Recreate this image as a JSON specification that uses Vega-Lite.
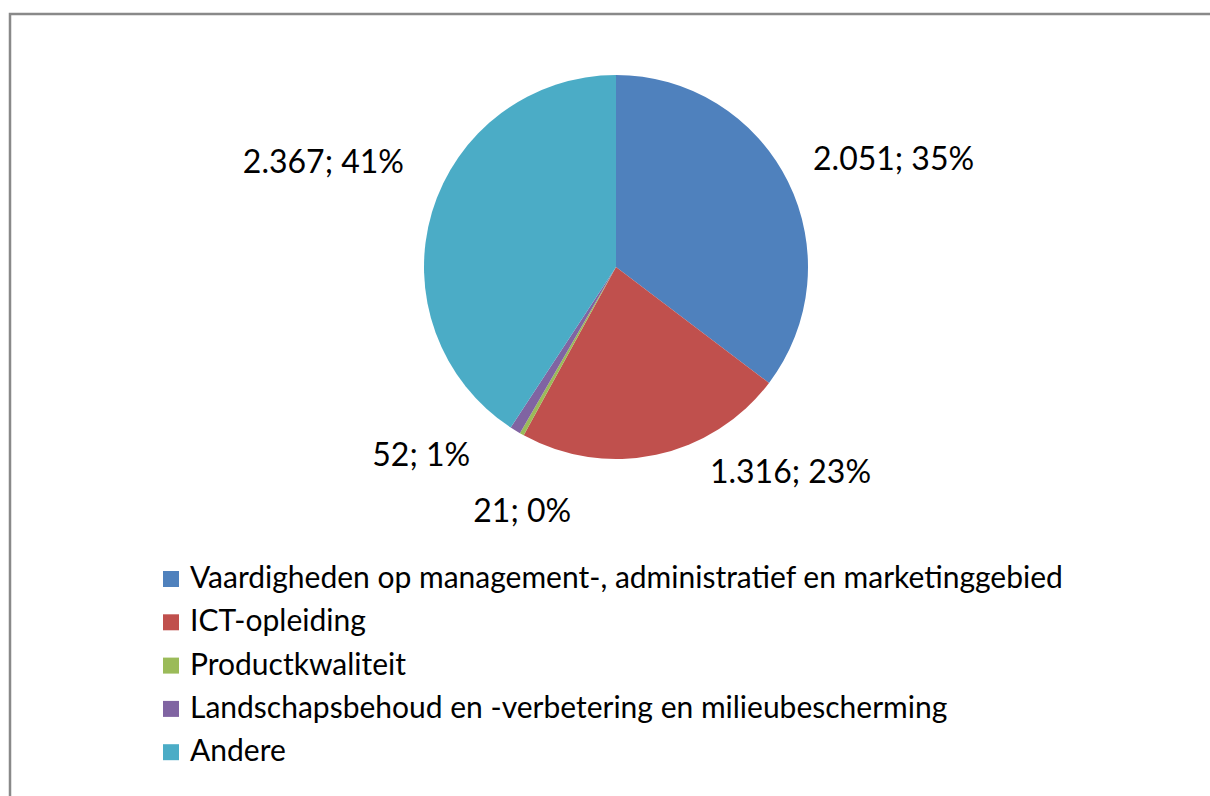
{
  "$schema": "https://vega.github.io/schema/vega-lite/v6.json",
  "width": 1205,
  "height": 790,
  "autosize": {"type": "none"},
  "padding": {"left": 10, "top": 14, "right": 0, "bottom": 0},
  "background": "white",
  "config": {"view": {"stroke": "#898989", "strokeWidth": 2.5}, "font": "Lato"},
  "data": {"values": [
    {"idx": 1, "category": "Vaardigheden op management-, administratief en marketinggebied", "value": 2051, "label": "2.051; 35%"},
    {"idx": 2, "category": "ICT-opleiding", "value": 1316, "label": "1.316; 23%"},
    {"idx": 3, "category": "Productkwaliteit", "value": 21, "label": "21; 0%"},
    {"idx": 4, "category": "Landschapsbehoud en -verbetering en milieubescherming", "value": 52, "label": "52; 1%"},
    {"idx": 5, "category": "Andere", "value": 2367, "label": "2.367; 41%"}
  ]},
  "encoding": {
    "theta": {"field": "value", "type": "quantitative", "stack": true},
    "order": {"field": "idx", "type": "quantitative"},
    "detail": {"field": "category", "type": "nominal"},
    "x": {"datum": 0, "type": "quantitative", "scale": {"domain": [-606, 599], "nice": false, "zero": false}, "axis": null},
    "y": {"datum": 0, "type": "quantitative", "scale": {"domain": [-537, 253], "nice": false, "zero": false}, "axis": null}
  },
  "layer": [
    {
      "mark": {"type": "arc", "outerRadius": 192},
      "encoding": {
        "color": {
          "field": "category",
          "type": "nominal",
          "scale": {
            "domain": ["Vaardigheden op management-, administratief en marketinggebied", "ICT-opleiding", "Productkwaliteit", "Landschapsbehoud en -verbetering en milieubescherming", "Andere"],
            "range": ["#4F81BD", "#C0504D", "#9BBB59", "#8064A2", "#4BACC6"]
          },
          "legend": {
            "orient": "none", "legendX": 146, "legendY": 550, "title": null,
            "symbolType": "square", "symbolSize": 256, "symbolStrokeWidth": 0, "symbolOpacity": 1,
            "labelFont": "Lato", "labelFontSize": 30, "labelColor": "#000000", "labelOffset": 4,
            "rowPadding": 13.3, "padding": 0, "labelLimit": 1200, "symbolOffset": 0, "direction": "vertical"
          }
        }
      }
    },
    {
      "mark": {"type": "text", "radius": 220, "align": "left", "baseline": "middle", "dy": -9, "fontSize": 32, "font": "Lato", "color": "#000000"},
      "encoding": {"text": {"condition": {"test": "datum.idx == 1", "field": "label"}, "value": ""}}
    },
    {
      "mark": {"type": "text", "radius": 215, "align": "left", "baseline": "middle", "dx": 49, "dy": -4, "fontSize": 32, "font": "Lato", "color": "#000000"},
      "encoding": {"text": {"condition": {"test": "datum.idx == 2", "field": "label"}, "value": ""}}
    },
    {
      "mark": {"type": "text", "radius": 240, "align": "center", "baseline": "middle", "dx": 24, "dy": 36, "fontSize": 32, "font": "Lato", "color": "#000000"},
      "encoding": {"text": {"condition": {"test": "datum.idx == 3", "field": "label"}, "value": ""}}
    },
    {
      "mark": {"type": "text", "radius": 215, "align": "right", "baseline": "middle", "dx": -33, "dy": 6, "fontSize": 32, "font": "Lato", "color": "#000000"},
      "encoding": {"text": {"condition": {"test": "datum.idx == 4", "field": "label"}, "value": ""}}
    },
    {
      "mark": {"type": "text", "radius": 215, "align": "right", "baseline": "middle", "dx": -6, "dy": -42, "fontSize": 32, "font": "Lato", "color": "#000000"},
      "encoding": {"text": {"condition": {"test": "datum.idx == 5", "field": "label"}, "value": ""}}
    }
  ]
}
